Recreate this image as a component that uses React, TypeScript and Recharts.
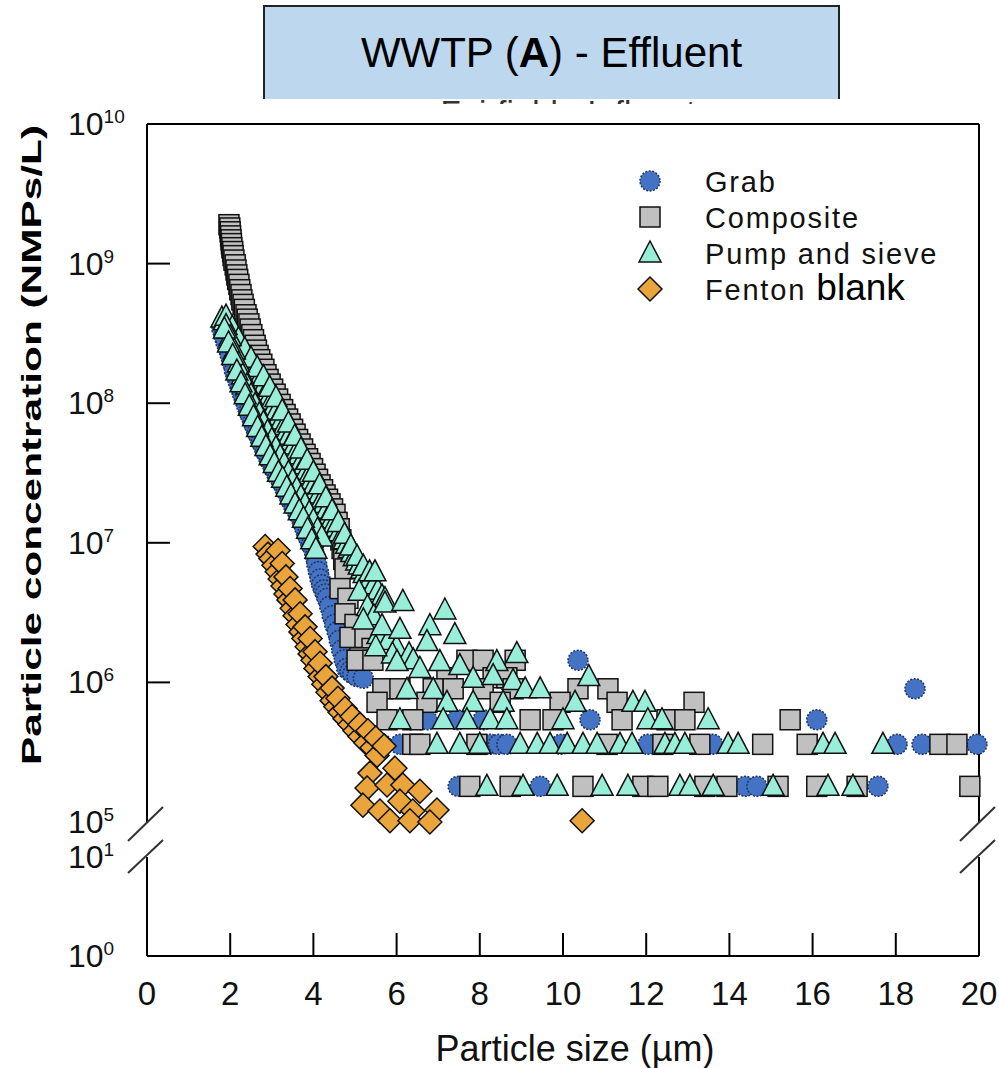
import React from "react"
import { Legend, ReferenceLine, Scatter, ScatterChart, XAxis, YAxis } from "recharts"

type Pt = [number, number]

const SIZE_TICKS = [0, 2, 4, 6, 8, 10, 12, 14, 16, 18, 20]
const UPPER_TICKS = [1e5, 1e6, 1e7, 1e8, 1e9, 1e10]
const LOWER_TICKS = [1, 10]

// particle size (µm), concentration (NMPs/L)
const grab: Pt[] = [
  [1.8, 3.4e8], [1.85, 3.0e8], [1.9, 2.7e8], [1.95, 2.45e8], [2.0, 2.2e8], [2.05, 1.95e8], [2.1, 1.7e8], [2.15, 1.55e8],
  [2.2, 1.4e8], [2.25, 1.27e8], [2.3, 1.15e8], [2.35, 1.05e8], [2.4, 9.5e7], [2.45, 8.7e7], [2.5, 8e7], [2.55, 7.3e7],
  [2.6, 6.7e7], [2.65, 6.2e7], [2.7, 5.7e7], [2.75, 5.3e7], [2.8, 4.9e7], [2.85, 4.5e7], [2.9, 4.2e7], [2.95, 3.9e7],
  [3.0, 3.7e7], [3.05, 3.4e7], [3.1, 3.2e7], [3.15, 3.0e7], [3.2, 2.9e7], [3.25, 2.7e7], [3.3, 2.5e7], [3.35, 2.35e7],
  [3.4, 2.2e7], [3.45, 2.05e7], [3.5, 1.9e7], [3.55, 1.8e7], [3.6, 1.7e7], [3.65, 1.6e7], [3.7, 1.5e7], [3.75, 1.38e7],
  [3.8, 1.25e7], [3.85, 1.15e7], [3.9, 1.05e7], [3.95, 9.7e6], [4.0, 9e6], [4.04, 8e6], [4.08, 7e6], [4.12, 6.2e6],
  [4.16, 5.5e6], [4.2, 5e6], [4.25, 4.6e6], [4.29, 4.3e6], [4.33, 4e6], [4.39, 3.5e6], [4.45, 3e6], [4.51, 2.6e6],
  [4.57, 2.3e6], [4.62, 2e6], [4.68, 1.7e6], [4.74, 1.45e6], [4.8, 1.26e6], [4.88, 1.2e6], [4.95, 1.15e6], [5.05, 1.1e6],
  [5.2, 1.07e6], [10.36, 1.44e6], [18.46, 9e5],
  [6.32, 5.4e5], [6.56, 5.4e5], [6.73, 5.4e5], [7.45, 5.4e5], [8.08, 5.4e5], [10.65, 5.4e5], [16.1, 5.4e5],
  [5.65, 3.6e5], [6.08, 3.6e5], [8.25, 3.6e5], [8.45, 3.6e5], [8.65, 3.6e5], [9.95, 3.6e5], [12.04, 3.6e5], [13.6, 3.6e5],
  [18.03, 3.6e5], [18.63, 3.6e5], [19.95, 3.6e5],
  [7.48, 1.8e5], [9.45, 1.8e5], [14.38, 1.8e5], [14.66, 1.8e5], [17.57, 1.8e5],
]

const composite: Pt[] = [
  [1.97, 1.9e9], [1.99, 1.8e9], [2.0, 1.69e9], [2.01, 1.58e9], [2.02, 1.48e9], [2.03, 1.39e9], [2.04, 1.3e9], [2.06, 1.22e9],
  [2.07, 1.14e9], [2.09, 1.06e9], [2.12, 9.8e8], [2.14, 9.0e8], [2.16, 8.3e8], [2.18, 7.7e8], [2.21, 7.1e8], [2.23, 6.5e8],
  [2.26, 6.0e8], [2.28, 5.5e8], [2.31, 5.1e8], [2.34, 4.7e8], [2.38, 4.3e8], [2.41, 4.0e8], [2.45, 3.7e8], [2.48, 3.4e8],
  [2.52, 3.1e8], [2.56, 2.85e8], [2.6, 2.6e8], [2.63, 2.4e8], [2.67, 2.2e8], [2.71, 2.05e8], [2.76, 1.9e8], [2.81, 1.75e8],
  [2.86, 1.6e8], [2.91, 1.48e8], [2.96, 1.37e8], [3.02, 1.26e8], [3.08, 1.16e8], [3.14, 1.07e8], [3.2, 9.8e7], [3.26, 9.0e7],
  [3.32, 8.3e7], [3.38, 7.7e7], [3.44, 7.1e7], [3.5, 6.5e7], [3.56, 6.0e7], [3.62, 5.5e7], [3.68, 5.1e7], [3.74, 4.7e7],
  [3.8, 4.3e7], [3.86, 4.0e7], [3.92, 3.7e7], [3.98, 3.4e7], [4.04, 3.1e7], [4.1, 2.85e7], [4.16, 2.6e7], [4.22, 2.4e7],
  [4.28, 2.2e7], [4.34, 2.05e7], [4.4, 1.9e7], [4.46, 1.75e7], [4.52, 1.6e7], [4.57, 1.4e7], [4.62, 1.26e7], [4.66, 1.05e7],
  [4.69, 9.1e6], [4.73, 7.6e6], [4.76, 6.5e6], [4.64, 4.7e6], [4.83, 4.0e6], [4.76, 3.1e6], [5.0, 2.6e6], [4.88, 2.1e6],
  [5.24, 2.1e6], [5.41, 1.75e6], [5.12, 1.5e6],
  [5.05, 1.44e6], [5.43, 1.44e6], [7.69, 1.44e6], [8.08, 1.44e6], [8.85, 1.44e6],
  [7.21, 1.08e6], [8.32, 1.08e6], [8.65, 1.08e6],
  [5.67, 9e5], [6.08, 9e5], [6.88, 9e5], [7.36, 9e5], [8.08, 9e5], [8.8, 9e5], [10.36, 9e5], [11.08, 9e5],
  [5.53, 7.2e5], [6.73, 7.2e5], [8.49, 7.2e5], [9.93, 7.2e5], [11.3, 7.2e5], [13.15, 7.2e5],
  [5.77, 5.4e5], [6.39, 5.4e5], [9.21, 5.4e5], [9.76, 5.4e5], [11.42, 5.4e5], [12.5, 5.4e5], [12.93, 5.4e5], [15.46, 5.4e5],
  [6.39, 3.6e5], [6.56, 3.6e5], [7.93, 3.6e5], [11.06, 3.6e5], [12.4, 3.6e5], [13.29, 3.6e5], [14.8, 3.6e5], [15.87, 3.6e5],
  [19.06, 3.6e5], [19.47, 3.6e5],
  [7.76, 1.8e5], [8.73, 1.8e5], [10.48, 1.8e5], [11.92, 1.8e5], [12.28, 1.8e5], [13.41, 1.8e5], [13.94, 1.8e5], [15.17, 1.8e5],
  [16.1, 1.8e5], [17.07, 1.8e5], [19.78, 1.8e5],
]

const pumpSieve: Pt[] = [
  [1.8, 4.07e8], [1.86, 3.89e8], [1.92, 3.63e8], [1.98, 3.39e8], [2.04, 3.16e8], [2.1, 2.95e8], [2.16, 2.75e8], [2.22, 2.57e8],
  [2.28, 2.4e8], [2.34, 2.29e8], [2.4, 2.14e8], [2.46, 2.0e8], [2.52, 1.86e8], [2.58, 1.74e8], [2.64, 1.62e8], [2.7, 1.51e8],
  [2.76, 1.41e8], [2.82, 1.35e8], [2.88, 1.23e8], [2.94, 1.12e8], [3.0, 1.05e8], [3.06, 9.55e7], [3.12, 8.91e7], [3.18, 8.13e7],
  [3.24, 7.59e7], [3.3, 6.92e7], [3.36, 6.31e7], [3.42, 5.89e7], [3.48, 5.37e7], [3.54, 5.01e7], [3.6, 4.57e7], [3.66, 4.27e7],
  [3.72, 3.89e7], [3.78, 3.63e7], [3.84, 3.31e7], [3.9, 3.09e7], [3.96, 2.82e7], [4.02, 2.63e7], [4.08, 2.4e7], [4.14, 2.24e7],
  [4.2, 2.04e7], [4.26, 1.91e7], [4.32, 1.74e7], [4.38, 1.58e7], [4.44, 1.48e7], [4.5, 1.38e7], [4.56, 1.29e7], [4.62, 1.2e7],
  [4.68, 1.12e7], [4.74, 1.05e7], [4.8, 9.77e6], [4.86, 9.12e6], [4.92, 8.51e6], [4.98, 7.94e6], [5.04, 7.41e6], [5.1, 6.92e6],
  [5.16, 6.46e6], [5.22, 6.03e6], [5.3, 5.62e6], [5.36, 5.5e6], [5.45, 5.01e6], [5.55, 4.57e6], [5.65, 4.17e6], [5.72, 3.98e6],
  [1.9, 4.2e8], [2.05, 3.5e8], [2.2, 2.9e8], [2.35, 2.45e8], [2.5, 2.1e8], [2.65, 1.8e8], [2.8, 1.55e8], [2.95, 1.3e8],
  [3.1, 1.1e8], [3.25, 8.8e7], [3.4, 7.2e7], [3.55, 5.8e7], [3.7, 4.7e7], [3.85, 3.9e7], [4.0, 3.2e7], [4.15, 2.6e7],
  [4.3, 2.1e7], [4.45, 1.7e7], [4.6, 1.4e7], [4.75, 1.15e7], [4.9, 9.5e6], [5.05, 8e6], [5.2, 6.8e6], [5.35, 6.2e6],
  [1.9, 3.6e8], [2.0, 3.0e8], [2.1, 2.4e8], [2.2, 1.95e8], [2.3, 1.6e8], [2.4, 1.35e8], [2.5, 1.15e8], [2.6, 9.8e7],
  [2.7, 8.4e7], [2.8, 7.3e7], [2.9, 6.3e7], [3.0, 5.5e7], [3.1, 4.8e7], [3.2, 4.2e7], [3.3, 3.7e7], [3.4, 3.2e7],
  [3.5, 2.8e7], [3.6, 2.45e7], [3.7, 2.15e7], [3.8, 1.9e7], [3.9, 1.65e7], [4.0, 1.45e7], [4.1, 1.25e7], [4.2, 1.1e7],
  [1.86, 3.4e8], [1.96, 2.7e8], [2.06, 2.2e8], [2.16, 1.7e8], [2.26, 1.4e8], [2.36, 1.15e8], [2.46, 9.5e7], [2.56, 8e7],
  [2.66, 6.7e7], [2.76, 5.7e7], [2.86, 4.9e7], [2.96, 4.2e7], [3.06, 3.7e7], [3.16, 3.2e7], [3.26, 2.9e7], [3.36, 2.5e7],
  [3.46, 2.2e7], [3.56, 1.9e7], [3.66, 1.7e7], [3.76, 1.5e7], [3.86, 1.25e7], [3.96, 1.05e7], [4.06, 9e6],
  [5.1, 4.5e6], [5.3, 3.5e6], [5.45, 3e6], [5.2, 2.8e6], [5.55, 2.2e6], [5.8, 2e6], [6.0, 1.8e6], [5.9, 1.6e6],
  [6.3, 1.6e6], [6.4, 1.45e6], [5.5, 1.8e6],
  [5.48, 6.2e6], [5.72, 3.7e6], [6.15, 3.8e6], [7.16, 3.3e6], [5.65, 2.55e6], [6.08, 2.4e6], [6.8, 2.55e6], [7.4, 2.2e6],
  [6.73, 1.96e6], [6.01, 1.41e6], [6.56, 1.26e6], [7.04, 1.41e6], [7.52, 1.32e6], [8.41, 1.41e6], [8.89, 1.61e6],
  [7.84, 1.07e6], [8.32, 1.12e6], [8.8, 1.03e6], [9.09, 9e5], [9.45, 9e5], [6.25, 8.9e5], [6.88, 8.9e5], [10.62, 1.1e6],
  [7.21, 7.2e5], [7.84, 7.2e5], [8.56, 7.2e5], [10.29, 7.2e5], [11.68, 7.2e5], [11.97, 7.2e5],
  [6.08, 5.4e5], [7.12, 5.4e5], [7.69, 5.4e5], [8.25, 5.4e5], [8.65, 5.4e5], [10.0, 5.4e5], [12.04, 5.4e5], [12.38, 5.4e5],
  [13.49, 5.4e5],
  [6.97, 3.6e5], [7.52, 3.6e5], [8.0, 3.6e5], [8.97, 3.6e5], [9.38, 3.6e5], [9.69, 3.6e5], [10.1, 3.6e5], [10.48, 3.6e5],
  [10.82, 3.6e5], [11.37, 3.6e5], [11.66, 3.6e5], [12.45, 3.6e5], [12.69, 3.6e5], [12.93, 3.6e5], [13.97, 3.6e5],
  [14.21, 3.6e5], [16.25, 3.6e5], [16.54, 3.6e5], [17.69, 3.6e5],
  [8.17, 1.8e5], [9.04, 1.8e5], [9.86, 1.8e5], [10.94, 1.8e5], [11.56, 1.8e5], [12.81, 1.8e5], [13.05, 1.8e5],
  [13.61, 1.8e5], [15.05, 1.8e5], [16.37, 1.8e5], [16.97, 1.8e5],
]

const fentonBlank: Pt[] = [
  [2.84, 9.4e6], [2.91, 8.3e6], [2.98, 7.7e6], [3.05, 6.9e6], [3.13, 6.2e6], [3.2, 5.5e6], [3.27, 4.9e6], [3.34, 4.3e6],
  [3.41, 3.9e6], [3.49, 3.4e6], [3.56, 3.0e6], [3.63, 2.6e6], [3.7, 2.3e6], [3.77, 2.06e6], [3.85, 1.8e6], [3.92, 1.6e6],
  [3.99, 1.44e6], [4.06, 1.26e6], [4.16, 1.1e6], [4.25, 9.7e5], [4.35, 8.5e5], [4.45, 7.4e5], [4.54, 6.7e5], [4.64, 6.1e5],
  [4.76, 5.5e5], [4.88, 5.0e5], [5.0, 4.5e5], [5.12, 4.1e5], [5.26, 3.7e5], [5.41, 3.4e5], [5.53, 3.0e5],
  [3.15, 8.8e6], [3.25, 7.1e6], [3.34, 5.7e6], [3.44, 4.7e6], [3.56, 3.9e6], [3.68, 3.1e6], [3.8, 2.5e6], [3.92, 2.06e6],
  [4.04, 1.66e6], [4.16, 1.37e6], [4.3, 1.1e6], [4.45, 9.1e5], [4.59, 7.7e5], [4.76, 6.5e5], [4.93, 5.7e5], [5.12, 5.0e5],
  [5.31, 4.5e5], [5.5, 4.0e5], [5.7, 3.5e5],
  [5.36, 2.24e5], [5.96, 2.43e5], [5.29, 1.75e5], [5.77, 1.84e5], [6.15, 1.84e5], [6.56, 1.66e5], [5.19, 1.32e5],
  [5.6, 1.2e5], [6.08, 1.41e5], [6.39, 1.2e5], [6.97, 1.22e5], [5.84, 1.02e5], [6.32, 1.02e5], [6.8, 1.0e5], [10.46, 1.02e5],
]

const SERIES = [
  { name: "Grab", data: grab, kind: "circle", fill: "#4472C4", stroke: "#1E3560" },
  { name: "Composite", data: composite, kind: "square", fill: "#C0C0C0", stroke: "#111" },
  { name: "Pump and sieve", data: pumpSieve, kind: "triangle", fill: "#99EEDA", stroke: "#111" },
  { name: "Fenton", data: fentonBlank, kind: "diamond", fill: "#E9A53C", stroke: "#111" },
]

const FONT = "'Liberation Sans', Arial, sans-serif"

function Marker({ kind, cx, cy, fill, stroke }: { kind: string; cx: number; cy: number; fill: string; stroke: string }) {
  if (kind === "circle") return <circle cx={cx} cy={cy} r={10} fill={fill} stroke={stroke} strokeWidth={1.5} strokeDasharray="2 1.5" />
  if (kind === "square") return <rect x={cx - 10} y={cy - 10} width={20} height={20} fill={fill} stroke={stroke} strokeWidth={1.5} />
  if (kind === "triangle") return <polygon points={`${cx},${cy - 12} ${cx - 11},${cy + 9} ${cx + 11},${cy + 9}`} fill={fill} stroke={stroke} strokeWidth={1.5} />
  return <polygon points={`${cx},${cy - 12} ${cx + 12},${cy} ${cx},${cy + 12} ${cx - 12},${cy}`} fill={fill} stroke={stroke} strokeWidth={1.5} />
}

function PowerTick(props: any) {
  const { x, y, payload, lines } = props
  const exp = Math.round(Math.log10(payload.value))
  return (
    <g>
      {lines.includes(payload.value) && <line x1={x} y1={y} x2={x + 23} y2={y} stroke="#000" strokeWidth={2} />}
      <text x={x - 79} y={y + 11} fontSize={32} fontFamily={FONT} fill="#111">
        10<tspan dy={-12} fontSize={19}>{exp}</tspan>
      </text>
    </g>
  )
}

function SizeTick(props: any) {
  const { x, y, payload } = props
  return (
    <g>
      <line x1={x} y1={y} x2={x} y2={y - 23} stroke="#000" strokeWidth={2} />
      <text x={x} y={y + 49} textAnchor="middle" fontSize={33} fontFamily={FONT} fill="#111">{payload.value}</text>
    </g>
  )
}

function LegendBox() {
  return (
    <svg width={340} height={150} style={{ display: "block" }}>
      {SERIES.map((s, i) => (
        <g key={s.name}>
          <Marker kind={s.kind} cx={20} cy={18 + i * 36} fill={s.fill} stroke={s.stroke} />
          <text x={75} y={29 + i * 36} fontSize={29} fontFamily={FONT} fill="#111" letterSpacing={1.8}>
            {s.name}
            {s.kind === "diamond" && <tspan fontSize={37} letterSpacing={0} fill="#000"> blank</tspan>}
          </text>
        </g>
      ))}
    </svg>
  )
}

const points = (d: Pt[]) => d.map(([x, y]) => ({ x, y }))

export default function App() {
  return (
    <div style={{ position: "absolute", left: 0, top: 0, width: 999, height: 1068, background: "#fff", fontFamily: FONT }}>
      {/* original title hidden under the box, only its top edge shows */}
      <div style={{ position: "absolute", left: 0, top: 97, width: 999, height: 7, overflow: "hidden" }}>
        <div style={{ position: "absolute", left: 0, width: 1136, top: -1, textAlign: "center", fontSize: 33, lineHeight: "33px", color: "#333" }}>Fairfield - Influent</div>
      </div>
      <div style={{ position: "absolute", left: 263, top: 5, width: 573, height: 92, background: "#BDD7EE", border: "2px solid #222", borderBottom: "none", textAlign: "center", fontSize: 42, lineHeight: "92px", color: "#000" }}>
        WWTP (<b>A</b>) - Effluent
      </div>

      <div style={{ position: "absolute", left: 0, top: 0 }}>
        <ScatterChart width={999} height={1068} margin={{ top: 124, right: 20, bottom: 246, left: 87 }}>
          <XAxis type="number" dataKey="x" domain={[0, 20]} ticks={SIZE_TICKS} hide />
          <YAxis type="number" dataKey="y" scale="log" domain={[1e5, 1e10]} ticks={UPPER_TICKS} interval={0} width={60}
            axisLine={{ stroke: "#000", strokeWidth: 2 }} tickLine={false} tickSize={0} tickMargin={0}
            tick={(p: any) => <PowerTick {...p} lines={[1e6, 1e7, 1e8, 1e9]} />} />
          <ReferenceLine y={1e10} stroke="#000" strokeWidth={2} ifOverflow="visible" />
          <ReferenceLine x={20} stroke="#000" strokeWidth={2} ifOverflow="visible" />
          {SERIES.map((s) => (
            <Scatter key={s.name} name={s.name} data={points(s.data)} isAnimationActive={false}
              shape={(p: any) => <Marker kind={s.kind} cx={p.cx} cy={p.cy} fill={s.fill} stroke={s.stroke} />} />
          ))}
          <Legend layout="vertical" align="center" verticalAlign="middle"
            wrapperStyle={{ left: 630, top: 163, width: 340, height: 150 }} content={() => <LegendBox />} />
        </ScatterChart>
      </div>

      {/* lower segment of the broken axis (10^0 – 10^1): no points fall here */}
      <div style={{ position: "absolute", left: 0, top: 0 }}>
        <ScatterChart width={999} height={1068} margin={{ top: 857, right: 20, bottom: 72, left: 87 }}>
          <XAxis type="number" dataKey="x" domain={[0, 20]} ticks={SIZE_TICKS} interval={0} height={40}
            axisLine={{ stroke: "#000", strokeWidth: 2 }} tickLine={false} tickSize={0} tickMargin={0}
            tick={(p: any) => <SizeTick {...p} />}
            label={{ content: () => <text x={575} y={1061} textAnchor="middle" fontSize={36} fontFamily={FONT} fill="#111">Particle size (µm)</text> }} />
          <YAxis type="number" dataKey="y" scale="log" domain={[1, 10]} allowDataOverflow ticks={LOWER_TICKS} interval={0} width={60}
            axisLine={{ stroke: "#000", strokeWidth: 2 }} tickLine={false} tickSize={0} tickMargin={0}
            tick={(p: any) => <PowerTick {...p} lines={[]} />} />
          <ReferenceLine x={20} stroke="#000" strokeWidth={2} ifOverflow="visible" />
          <Scatter name="Fenton (off-range)" data={points(fentonBlank)} isAnimationActive={false} shape={() => <g />} />
        </ScatterChart>
      </div>

      <svg width={999} height={1068} style={{ position: "absolute", left: 0, top: 0, pointerEvents: "none" }}>
        {[147, 979].map((ax) => (
          <g key={ax} stroke="#333" strokeWidth={2}>
            <line x1={ax - 19} y1={841} x2={ax + 16} y2={807} />
            <line x1={ax - 19} y1={873} x2={ax + 16} y2={840} />
          </g>
        ))}
        <text transform="rotate(-90 31 445)" x={31} y={445} textAnchor="middle" dominantBaseline="central"
          fontSize={28} fontWeight="bold" fontFamily={FONT} fill="#000" textLength={640} lengthAdjust="spacingAndGlyphs">
          Particle concentration (NMPs/L)
        </text>
      </svg>
    </div>
  )
}
